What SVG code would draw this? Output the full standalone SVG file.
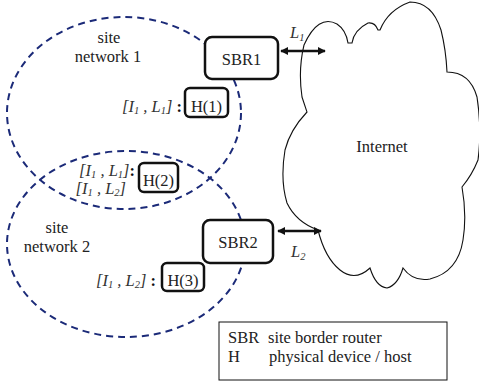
<svg xmlns="http://www.w3.org/2000/svg" width="479" height="385" viewBox="0 0 479 385" font-family="'Liberation Serif','DejaVu Serif',serif">
<style>
text{font-family:"Liberation Serif","DejaVu Serif","Noto Serif",serif;font-size:16.5px;fill:#222}
.site{fill:none;stroke:#1b2a78;stroke-width:2;stroke-dasharray:7 5}
.node{fill:#fff;stroke:#111;stroke-width:2.5}
.lab{font-style:italic;fill:#333}
.sub{font-size:10.5px}
.col{font-style:normal;font-weight:bold;fill:#111}
.link{stroke:#111;stroke-width:2.5;fill:none;marker-start:url(#ah);marker-end:url(#ah)}
</style>
<defs>
<marker id="ah" viewBox="0 0 10 10" refX="9" refY="5" markerWidth="3.2" markerHeight="3.2" orient="auto-start-reverse" markerUnits="strokeWidth">
<path d="M0,0 L10,5 L0,10 Z" fill="#111"/>
</marker>
</defs>
<rect width="479" height="385" fill="#fff"/>
<g id="site1">
<ellipse class="site" cx="124" cy="113" rx="117" ry="96"/>
<text x="109" y="43" text-anchor="middle">site</text>
<text x="108" y="62" text-anchor="middle">network 1</text>
</g>
<g id="site2">
<ellipse class="site" cx="126" cy="244" rx="119" ry="93"/>
<text x="57" y="233" text-anchor="middle">site</text>
<text x="57" y="252" text-anchor="middle">network 2</text>
</g>
<g id="internet">
<path d="M302,97 Q298,70 304,45 Q318,14 337,24 Q346,30 348,43 L352,43 Q354,30 368,23 Q375,22 378,30 L380,30 Q388,10 410,2 Q432,2 441,30 Q446,50 447,72 Q470,72 477,97 Q482,130 478,160 Q472,175 462,187 Q467,215 463,240 Q458,272 430,279 Q413,282 403,268 Q398,285 387,288 Q376,287 370,268 Q355,282 340,270 Q325,258 318,230 Q296,222 287,203 Q280,180 285,150 Q290,130 307,112 Z" fill="none" stroke="#111" stroke-width="1.1"/>
<text x="382" y="152" text-anchor="middle">Internet</text>
</g>
<g id="connectors">
<line class="link" x1="281" y1="51" x2="325" y2="51"/>
<line class="link" x1="278" y1="231" x2="321" y2="231"/>
<text class="lab" x="290" y="38">L<tspan class="sub" dy="3">1</tspan></text>
<text class="lab" x="291" y="257">L<tspan class="sub" dy="3">2</tspan></text>
</g>
<g id="SBR1">
<rect class="node" x="205" y="37" width="73" height="42" rx="7"/>
<text x="241.5" y="65" text-anchor="middle">SBR1</text>
</g>
<g id="SBR2">
<rect class="node" x="203" y="220" width="70" height="43" rx="7"/>
<text x="238" y="248" text-anchor="middle">SBR2</text>
</g>
<g id="H1">
<rect class="node" x="185" y="88" width="43" height="29" rx="5"/>
<text x="206.5" y="112" text-anchor="middle">H(1)</text>
<text class="lab" x="182" y="112" text-anchor="end">[I<tspan class="sub" dy="2">1</tspan><tspan dy="-2"> , L</tspan><tspan class="sub" dy="2">1</tspan><tspan dy="-2">] </tspan><tspan class="col">:</tspan></text>
</g>
<g id="H2">
<rect class="node" x="139" y="163" width="39" height="29" rx="5"/>
<text x="158.5" y="186" text-anchor="middle">H(2)</text>
<text class="lab" x="135" y="176" text-anchor="end">[I<tspan class="sub" dy="2">1</tspan><tspan dy="-2"> , L</tspan><tspan class="sub" dy="2">1</tspan><tspan dy="-2">]</tspan><tspan class="col">:</tspan></text>
<text class="lab" x="126" y="194" text-anchor="end">[I<tspan class="sub" dy="2">1</tspan><tspan dy="-2"> , L</tspan><tspan class="sub" dy="2">2</tspan><tspan dy="-2">]</tspan></text>
</g>
<g id="H3">
<rect class="node" x="162" y="263" width="42" height="28" rx="5"/>
<text x="183" y="286" text-anchor="middle">H(3)</text>
<text class="lab" x="156" y="286" text-anchor="end">[I<tspan class="sub" dy="2">1</tspan><tspan dy="-2"> , L</tspan><tspan class="sub" dy="2">2</tspan><tspan dy="-2">] </tspan><tspan class="col">:</tspan></text>
</g>
<g id="legend">
<rect x="219" y="322" width="228" height="58" fill="#fff" stroke="#111" stroke-width="1"/>
<text x="228" y="343">SBR</text>
<text x="268" y="343">site border router</text>
<text x="228" y="362">H</text>
<text x="269" y="362">physical device / host</text>
</g>
</svg>
